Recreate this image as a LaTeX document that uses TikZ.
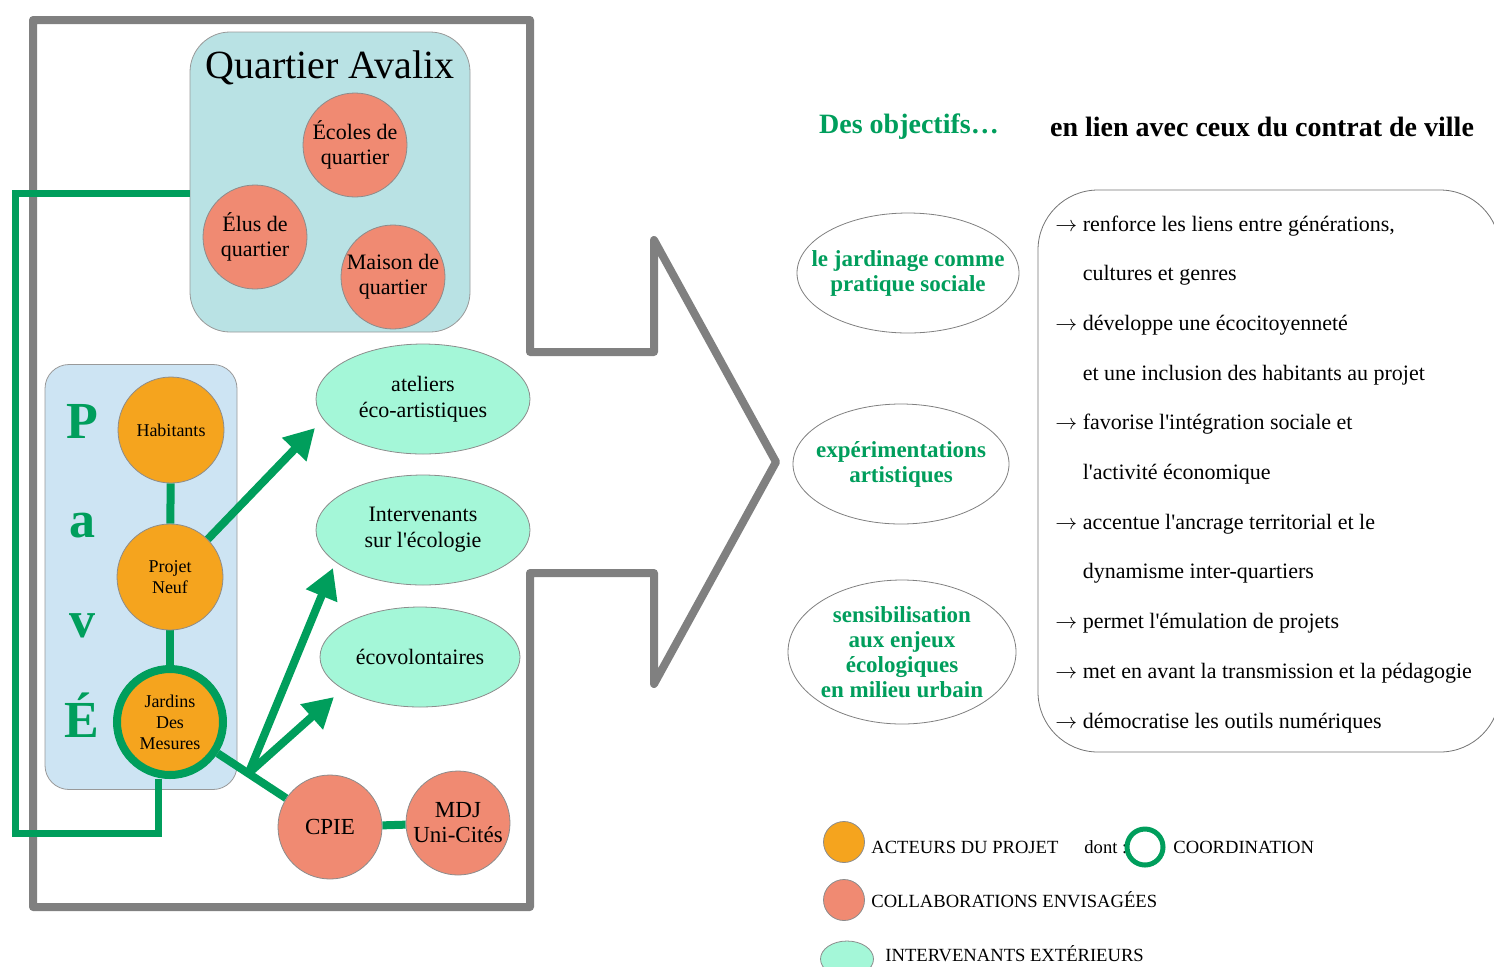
\documentclass[tikz,border=0pt]{standalone}
\usepackage{fontspec}
\setmainfont{Liberation Serif}
\usetikzlibrary{shapes.geometric}
\usetikzlibrary{arrows.meta}
\usetikzlibrary{backgrounds}
\usetikzlibrary{calc}
\definecolor{vert}{RGB}{0,158,92}
\definecolor{acteurcol}{RGB}{245,164,30}
\definecolor{collabcol}{RGB}{240,138,114}
\definecolor{intervcol}{RGB}{164,247,216}
\definecolor{quartiercol}{RGB}{185,226,228}
\definecolor{pavecol}{RGB}{205,228,243}
\definecolor{grisfleche}{RGB}{128,128,128}
\newcommand{\fl}{$\rightarrow$\ }
\newcommand{\ind}{\hphantom{$\rightarrow$}\ }

\begin{document}
\begin{tikzpicture}[x=0.5pt,y=-0.5pt,
  acteur/.style={circle,draw=black!45,fill=acteurcol,minimum size=53pt,inner sep=0pt,align=center,font=\fontsize{9}{10.5}\selectfont},
  collab/.style={circle,draw=black!45,fill=collabcol,minimum size=52pt,inner sep=0pt,align=center,font=\fontsize{11}{12.5}\selectfont},
  interv/.style={ellipse,draw=black!45,fill=intervcol,minimum width=107pt,minimum height=55pt,inner sep=0pt,align=center,font=\fontsize{11}{13}\selectfont},
  objectif/.style={ellipse,draw=black!50,fill=white,inner xsep=-9pt,inner ysep=0pt,align=center,text=vert,font=\fontsize{11.5}{12.5}\selectfont\bfseries},
  zone/.style={draw=black!40,inner sep=0pt},
  lettre/.style={anchor=base,text=vert,font=\fontsize{26}{26}\selectfont\bfseries},
  lien/.style={draw=vert,line width=4pt},
  fleche/.style={lien,-{Triangle[length=15pt,width=16pt]}},
  legende/.style={anchor=base west,inner sep=0pt,font=\fontsize{9.3}{9.3}\selectfont},
  ligne/.style={anchor=base west,inner sep=0pt,font=\fontsize{11}{11}\selectfont}]
  \useasboundingbox (0,0) rectangle (1494,966);

  \begin{pgfonlayer}{background}
    \draw[line width=4pt,draw=grisfleche,line join=round]
      (33,20) -- (530,20) -- (530,352) -- (654,352) -- (654,240) -- (776,462)
      -- (654,684) -- (654,573) -- (530,573) -- (530,907) -- (33,907) -- cycle;
    \node[zone,fill=quartiercol,rounded corners=20pt,minimum width=140pt,minimum height=150pt] (qa) at (330,182) {};
    \node[zone,fill=pavecol,rounded corners=12pt,minimum width=96pt,minimum height=212.5pt] (pave) at (141,577) {};
  \end{pgfonlayer}

  \node[font=\fontsize{20}{20}\selectfont] (qatitre) at (330,68) {Quartier Avalix};
  \node[collab] (ecoles) at (355,145) {Écoles de\\quartier};
  \node[collab] (elus) at (255,237) {Élus de\\quartier};
  \node[collab] (maison) at (393,277) {Maison de\\quartier};

  \foreach \l [count=\i from 0] in {P,a,v,É}
    \node[lettre] (lettre\i) at (82,{438+99.7*\i}) {\l};

  \node[acteur] (hab) at (171,430) {Habitants};
  \node[acteur] (pn) at (170,577) {Projet\\Neuf};
  \node[acteur,draw=vert,line width=4pt] (jdm) at (170,722) {Jardins\\Des\\Mesures};

  \node[interv] (atel) at (423,399) {ateliers\\éco-artistiques};
  \node[interv] (interv) at (423,530) {Intervenants\\sur l\textquotesingle écologie};
  \node[interv,minimum width=100pt,minimum height=50pt] (ecov) at (420,657) {écovolontaires};

  \node[collab,font=\fontsize{11.5}{12.5}\selectfont] (cpie) at (330,827) {CPIE};
  \node[collab,font=\fontsize{11.5}{12.5}\selectfont] (mdj) at (458,823) {MDJ\\Uni-Cités};

  \coordinate (hub) at ($(jdm)!0.49!(cpie)$);
  \coordinate (pointeA) at (315,428);
  \coordinate (pointeB) at (333,568);
  \coordinate (pointeC) at (334,697);

  \begin{pgfonlayer}{background}
    \draw[lien] (hab) -- (pn);
    \draw[lien] (pn) -- (jdm);
    \draw[lien] (jdm) -- (cpie);
    \draw[lien] (cpie) -- (mdj);
    \draw[lien,line width=3.5pt] ($(qa.west)+(0,11)$) -| (15,833) -| ([xshift=-6pt]jdm.south);
    \draw[fleche] (pn.45) -- (pointeA);
    \draw[fleche] (hub) -- (pointeB);
    \draw[fleche] (hub) -- (pointeC);
  \end{pgfonlayer}

  \node[text=vert,font=\fontsize{14}{14}\selectfont\bfseries] (titre1) at (909,127) {Des objectifs…};
  \node[font=\fontsize{14}{14}\selectfont\bfseries] (titre2) at (1262,127) {en lien avec ceux du contrat de ville};

  \node[objectif,minimum width=111pt,minimum height=60pt] (obj1) at (908,273) {le jardinage comme\\pratique sociale};
  \node[objectif,minimum width=108pt,minimum height=60pt] (obj2) at (901,464) {expérimentations\\artistiques};
  \node[objectif,minimum width=114pt,minimum height=72pt] (obj3) at (902,652) {sensibilisation\\aux enjeux\\écologiques\\en milieu urbain};

  \node[draw=black!55,rounded corners=30pt,minimum width=231pt,minimum height=281pt] (liste) at (1269,471) {};
  \foreach \txt [count=\i from 0] in {
      {\fl renforce les liens entre générations,},
      {\ind cultures et genres},
      {\fl développe une écocitoyenneté},
      {\ind et une inclusion des habitants au projet},
      {\fl favorise l\textquotesingle intégration sociale et},
      {\ind l\textquotesingle activité économique},
      {\fl accentue l\textquotesingle ancrage territorial et le},
      {\ind dynamisme inter-quartiers},
      {\fl permet l\textquotesingle émulation de projets},
      {\fl met en avant la transmission et la pédagogie},
      {\fl démocratise les outils numériques}}
    \node[ligne] (ligne\i) at (1055,{231+49.7*\i}) {\txt};

  \node[circle,draw=black!45,fill=acteurcol,minimum size=20.5pt,inner sep=0pt] (legA) at (844,842) {};
  \node[legende] (legAt) at (871,853) {ACTEURS DU PROJET};
  \node[legende] (legdont) at (1084,853) {dont :};
  \node[circle,draw=vert,line width=2.5pt,minimum size=18pt,inner sep=0pt] (legC) at (1145,847) {};
  \node[legende] (legCt) at (1173,853) {COORDINATION};
  \node[circle,draw=black!45,fill=collabcol,minimum size=20.5pt,inner sep=0pt] (legB) at (844,900) {};
  \node[legende] (legBt) at (871,907) {COLLABORATIONS ENVISAGÉES};
  \node[ellipse,draw=black!45,fill=intervcol,minimum width=26.5pt,minimum height=18pt,inner sep=0pt] (legI) at (847,959) {};
  \node[legende] (legIt) at (885,961) {INTERVENANTS EXTÉRIEURS};
\end{tikzpicture}
\end{document}
